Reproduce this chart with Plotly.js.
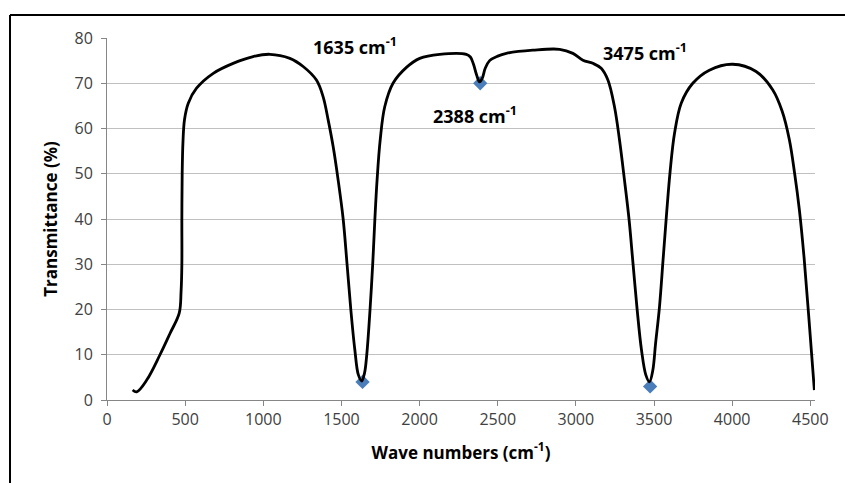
<!DOCTYPE html>
<html>
<head>
<meta charset="utf-8">
<script src="https://cdn.plot.ly/plotly-3.0.1.min.js"></script>
<style>html,body{margin:0;padding:0;background:#fff;}#chart{width:845px;height:483px;}</style>
</head>
<body>
<div id="chart"></div>
<script>
// Spectrum curve
const waveNumbers = [164,190,254,339,403,462,474,479,479,481,486,496,520,573,680,807,935,1042,1170,1255,1340,1383,1415,1447,1479,1511,1536,1560,1586,1608,1630,1648,1662,1683,1700,1714,1728,1748,1777,1830,1916,2001,2129,2299,2325,2345,2365,2384,2402,2420,2448,2500,2555,2725,2896,2981,3045,3109,3162,3205,3247,3279,3311,3340,3366,3392,3420,3448,3471,3492,3510,3535,3558,3580,3603,3631,3674,3748,3854,4003,4153,4260,4320,4366,4400,4430,4460,4490,4526];
const transmittance = [2.2,1.8,4.4,10,14.7,19.2,24,30,40,50,57,62,65.6,68.9,72.2,74.4,75.9,76.4,75.5,73.7,70.7,67,61.9,56,48.6,40,30,20,11,5.6,4.2,6,10,20,30,40,48.6,57.5,64.8,70,73.5,75.5,76.4,76.4,75.8,74.2,71.8,70.3,71.2,73.3,75,76,76.6,77.3,77.5,76.6,75.1,74.4,73.3,70.7,64.8,57.5,48.6,40,30,20,11,5.5,4.0,6.5,12.5,20.6,31,41,50.5,58.9,65.6,70,72.9,74.2,72.6,68.5,63.8,57.5,50,42,31.5,18.5,2.2];
// Marked peaks
const peakX = [1635, 2388, 3475];
const peakY = [4, 70, 3];
const peakLabels = ['1635 cm<sup>-1</sup>', '2388 cm<sup>-1</sup>', '3475 cm<sup>-1</sup>'];
const labelX = [1587, 2355, 3442];
const labelY = [78.2, 63.0, 76.9];

const bold = {family: 'Open Sans, sans-serif', size: 17, color: '#000', weight: 700};
const boldAnn = {family: 'Open Sans, sans-serif', size: 18, color: '#000', weight: 700};

const traces = [
  {x: peakX, y: peakY, type: 'scatter', mode: 'markers',
   marker: {symbol: 'diamond', size: 11, color: '#4a7ebb'}, hoverinfo: 'skip'},
  {x: waveNumbers, y: transmittance, type: 'scatter', mode: 'lines',
   line: {color: '#000', width: 2.8, shape: 'spline', smoothing: 1}, hoverinfo: 'skip'}
];

const annotations = peakLabels.map((t, i) => ({
  x: labelX[i], y: labelY[i], xref: 'x', yref: 'y', text: t, showarrow: false,
  font: boldAnn, xanchor: 'center', yanchor: 'middle'
}));

const layout = {
  width: 845, height: 483,
  margin: {l: 107, r: 30, t: 38, b: 83},
  paper_bgcolor: '#fff', plot_bgcolor: '#fff',
  showlegend: false,
  xaxis: {
    range: [0, 4530], tick0: 0, dtick: 500, tickmode: 'linear',
    showgrid: false, zeroline: false,
    showline: true, linecolor: '#868686', linewidth: 1,
    ticks: 'outside', ticklen: 5, tickcolor: '#868686',
    tickfont: {family: 'Open Sans, sans-serif', size: 16, color: '#404040'},
    title: {text: 'Wave numbers (cm<sup>-1</sup>)', font: bold, standoff: 17}
  },
  yaxis: {
    range: [0, 80], tick0: 0, dtick: 10, tickmode: 'linear',
    showgrid: true, gridcolor: '#c0c0c0', gridwidth: 1, zeroline: false,
    showline: true, linecolor: '#868686', linewidth: 1,
    ticks: 'outside', ticklen: 5, tickcolor: '#868686',
    tickfont: {family: 'Open Sans, sans-serif', size: 16, color: '#404040'},
    ticklabelstandoff: 5,
    title: {text: 'Transmittance (%)', font: bold, standoff: 12}
  },
  annotations: annotations,
  shapes: [
    {type: 'line', xref: 'paper', yref: 'paper', x0: -0.137, x1: -0.137, y0: 1.0635, y1: -0.25, line: {color: '#000', width: 2}},
    {type: 'line', xref: 'paper', yref: 'paper', x0: -0.137, x1: 1.05, y0: 1.0635, y1: 1.0635, line: {color: '#000', width: 2}}
  ]
};

Plotly.newPlot('chart', traces, layout, {displayModeBar: false, staticPlot: true});
</script>
</body>
</html>
